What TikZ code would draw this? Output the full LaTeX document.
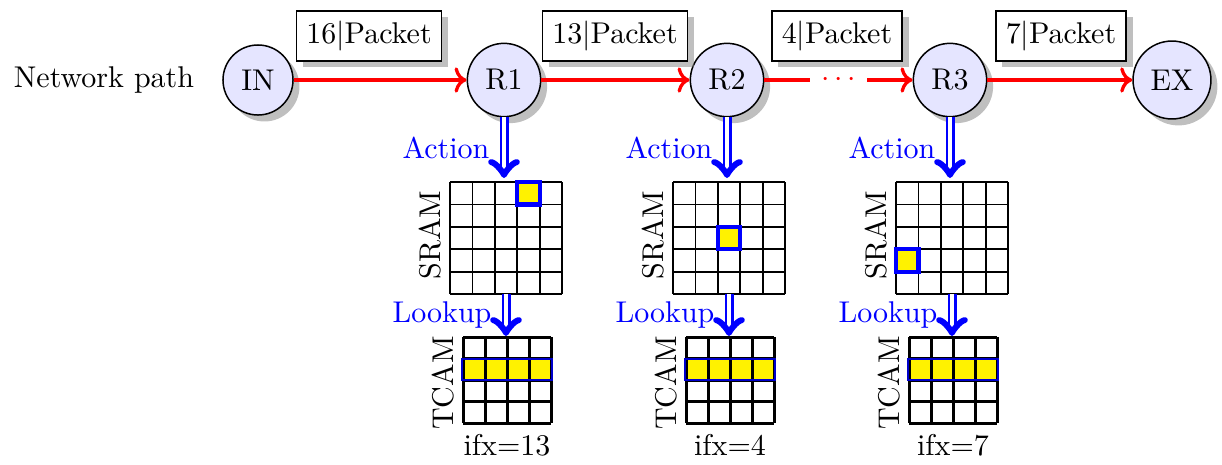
\documentclass[tikz,border=0pt]{standalone}
\usetikzlibrary{shadows,arrows.meta}
\tikzset{
  router/.style={circle, draw, line width=0.5pt, fill=blue!10, drop shadow, inner sep=3.7pt},
  pkt/.style={draw, line width=0.5pt, fill=white, drop shadow, inner sep=3.33pt},
  redarrow/.style={red, line width=1.1pt, ->},
  barrow/.style={blue, double, double distance=1.1pt, line width=0.95pt, -{Classical TikZ Rightarrow[length=6.3pt, width=10.5pt, line width=2pt, round]}},
  gridline/.style={black, line width=0.6pt},
  tgridline/.style={black, line width=1pt},
  hlcell/.style={draw=blue, line width=1.4pt, fill=yellow},
  lbl/.style={blue, inner sep=0pt},
}
\newcommand\mysram[3]{%
  \foreach \i in {0,...,5}{%
    \draw[gridline] ({#1+\i*22.4},182) -- ({#1+\i*22.4},294);
    \draw[gridline] (#1,{182+\i*22.4}) -- ({#1+112},{182+\i*22.4});
  }
  \draw[hlcell] ({#1+#2*22.4},{182+#3*22.4}) rectangle ++(22.4,22.4);
}
\newcommand\mytcam[1]{%
  \fill[yellow] ({#1-1},358.6) rectangle ({#1+89},380.2);
  \foreach \i in {0,...,4}{%
    \draw[tgridline] ({#1+\i*22},337) -- ({#1+\i*22},423.4);
    \draw[tgridline] (#1,{337+\i*21.6}) -- ({#1+88},{337+\i*21.6});
  }
  \draw[blue!80!black, line width=0.6pt] ({#1-1},358.6) rectangle ({#1+89},380.2);
}
\begin{document}
\begin{tikzpicture}[x=0.33333pt,y=-0.33333pt]
\useasboundingbox (0,0) rectangle (1222,465);

\node (np) at (104,80) {Network path};
\node[router] (IN) at (258,80) {IN};
\node[router] (R1) at (504,80) {R1};
\node[router] (R2) at (727,80) {R2};
\node[router] (R3) at (950,80) {R3};
\node[router] (EX) at (1172,80) {EX};

\draw[redarrow] (IN) -- (R1);
\draw[redarrow] (R1) -- (R2);
\draw[redarrow] (R2) -- node[fill=white, text=red, inner sep=3.6pt] (dots) {$\cdots$} (R3);
\draw[redarrow] (R3) -- (EX);

\node[pkt] (p1) at (369,36) {16$|$Packet};
\node[pkt] (p2) at (615,36) {13$|$Packet};
\node[pkt] (p3) at (837,36) {4$|$Packet};
\node[pkt] (p4) at (1061,36) {7$|$Packet};

% grids
\mysram{450}{3}{0}
\mysram{673}{2}{2}
\mysram{896}{0}{3}
\mytcam{463}
\mytcam{686}
\mytcam{909}

% labels
\node[lbl] (act1) at (446,148) {Action};
\node[lbl] (act2) at (669,148) {Action};
\node[lbl] (act3) at (892,148) {Action};
\node[lbl] (lk1) at (442,315) {Lookup};
\node[lbl] (lk2) at (665,315) {Lookup};
\node[lbl] (lk3) at (888,315) {Lookup};
\node[rotate=90] (s1) at (430,235) {SRAM};
\node[rotate=90] (s2) at (653,235) {SRAM};
\node[rotate=90] (s3) at (876,235) {SRAM};
\node[rotate=90] (t1) at (443,383) {TCAM};
\node[rotate=90] (t2) at (666,383) {TCAM};
\node[rotate=90] (t3) at (889,383) {TCAM};
\node (if1) at (507,445) {ifx=13};
\node (if2) at (730,445) {ifx=4};
\node (if3) at (953,445) {ifx=7};

% blue arrows
\coordinate (a1) at (504,178);
\coordinate (a2) at (727,178);
\coordinate (a3) at (950,178);
\coordinate (b1) at (506,294);
\coordinate (b2) at (729,294);
\coordinate (b3) at (952,294);
\coordinate (c1) at (506,336);
\coordinate (c2) at (729,336);
\coordinate (c3) at (952,336);
\draw[barrow] (R1) -- (a1);
\draw[barrow] (R2) -- (a2);
\draw[barrow] (R3) -- (a3);
\draw[barrow] (b1) -- (c1);
\draw[barrow] (b2) -- (c2);
\draw[barrow] (b3) -- (c3);
\end{tikzpicture}
\end{document}
